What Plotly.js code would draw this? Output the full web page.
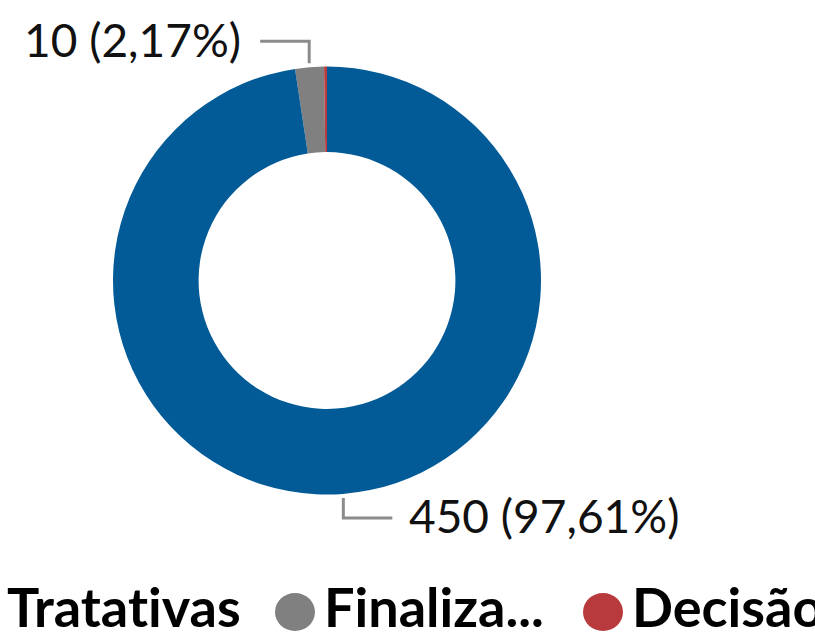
<!DOCTYPE html>
<html>
<head>
<meta charset="utf-8">
<script src="https://cdn.plot.ly/plotly-3.0.1.min.js"></script>
<style>
html,body{margin:0;padding:0;overflow:hidden;background:#fff}
#chart{width:815px;height:641px}
svg text{font-variant-ligatures:none;font-feature-settings:"liga" 0, "clig" 0;}
</style>
</head>
<body>
<div id="chart"></div>
<script>
// ---- data ----
var legendTitle = "Tratativas";
var categories = ["Finaliza...", "Decisão", "Em andamento"];
var values = [10, 1, 450];
var colors = ["#808080", "#B83A3C", "#025A96"];
var legendCategories = ["Finaliza...", "Decisão"];

// ---- layout constants ----
var W = 815, H = 641;
var cx = 327, cy = 280.5, R = 214;
var FONT = "Lato, 'Noto Sans', sans-serif";
function px(x){ return x / W; }
function py(y){ return 1 - y / H; }

var total = values.reduce(function(a,b){return a+b;}, 0);
// main series (largest) starts at 12 o'clock, clockwise
var before = 0;
for (var i = 0; i < values.length - 1; i++) before += values[i];
var rotation = -360 * before / total;

function fmt(v){
  return v + " (" + (100 * v / total).toFixed(2).replace(".", ",") + "%)";
}

var shapes = [], annotations = [];
var cum = 0;
values.forEach(function(v, i){
  var mid = (rotation + 360 * (cum + v / 2) / total) * Math.PI / 180;
  cum += v;
  if (v / total < 0.01) return;
  var r0 = R + 4;
  var x0 = cx + r0 * Math.sin(mid), y0 = cy - r0 * Math.cos(mid);
  var up = Math.cos(mid) > 0;
  var y1 = up ? y0 - 22 : y0 + 20;
  var left = Math.sin(mid) < 0;
  var x2 = left ? x0 - 49 : x0 + 49;
  shapes.push({type: "path", xref: "paper", yref: "paper",
    path: "M" + px(x0) + "," + py(y0) + " L" + px(x0) + "," + py(y1) + " L" + px(x2) + "," + py(y1),
    line: {color: "#8c8c8c", width: 3}});
  annotations.push({xref: "paper", yref: "paper",
    x: px(left ? x2 - 17 : x2 + 15), y: py(y1 - 2),
    xanchor: left ? "right" : "left", yanchor: "middle",
    text: fmt(v), showarrow: false,
    font: {family: FONT, size: 46, color: "#111"}});
});

// custom legend (circle markers)
annotations.push({xref: "paper", yref: "paper", x: px(5), y: 0,
  xanchor: "left", yanchor: "bottom", text: "<b>" + legendTitle + "</b>",
  showarrow: false, font: {family: FONT, size: 54, color: "#000"}});
var legX = [295, 603];
legendCategories.forEach(function(c, k){
  var idx = categories.indexOf(c);
  var mx = legX[k];
  shapes.push({type: "circle", xref: "paper", yref: "paper",
    x0: px(mx - 20), x1: px(mx + 20), y0: py(593), y1: py(631),
    fillcolor: colors[idx], line: {width: 0}});
  annotations.push({xref: "paper", yref: "paper", x: px(mx + 27), y: 0,
    xanchor: "left", yanchor: "bottom", text: "<b>" + c + "</b>",
    showarrow: false, font: {family: FONT, size: 54, color: "#000"}});
});

var trace = {
  type: "pie",
  labels: categories,
  values: values,
  marker: {colors: colors, line: {width: 0}},
  hole: 0.6,
  sort: false,
  direction: "clockwise",
  rotation: rotation,
  textinfo: "none",
  hoverinfo: "label+value+percent",
  showlegend: false,
  domain: {x: [px(cx - R), px(cx + R)], y: [py(cy + R), py(cy - R)]}
};

var layout = {
  width: W, height: H,
  margin: {l: 0, r: 0, t: 0, b: 0},
  paper_bgcolor: "#fff",
  showlegend: false,
  shapes: shapes,
  annotations: annotations,
  font: {family: FONT}
};

Plotly.newPlot("chart", [trace], layout, {displayModeBar: false, staticPlot: true});
</script>
</body>
</html>
